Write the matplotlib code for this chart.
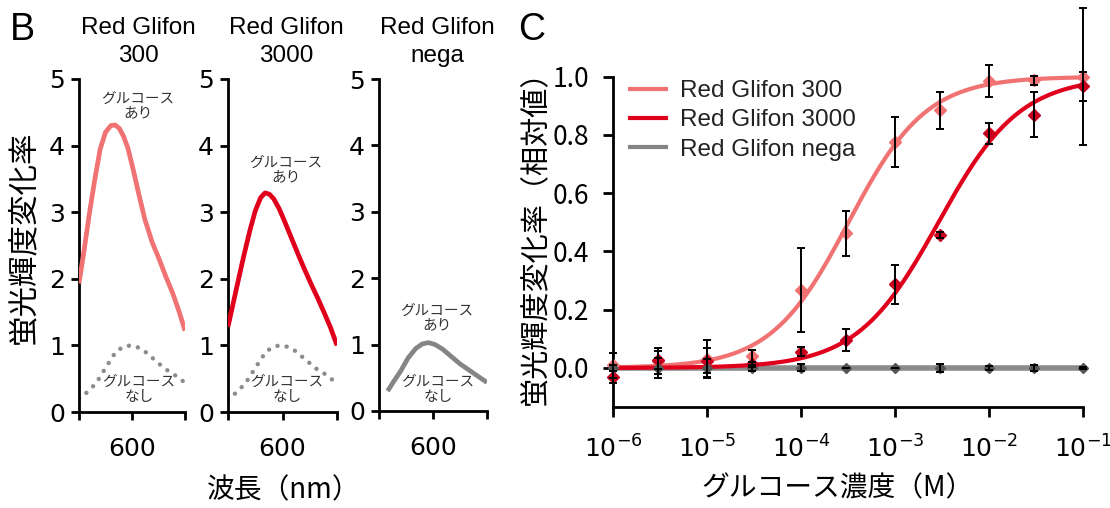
import numpy as np
import matplotlib
matplotlib.use('Agg')
import matplotlib.pyplot as plt
from matplotlib.lines import Line2D

JP = ['Noto Sans CJK JP', 'DejaVu Sans']
LAT = ['Liberation Sans', 'DejaVu Sans']
plt.rcParams['font.family'] = JP

# ---------------- Panel B data (spectra) ----------------
spectrum_titles = ['Red Glifon\n300', 'Red Glifon\n3000', 'Red Glifon\nnega']
wl_300_on = [550, 555, 560, 565, 570, 575, 580, 584, 588, 592, 596, 601, 606, 612, 619, 626, 632, 638, 644, 650]
val_300_on = [1.93, 2.45, 3.00, 3.50, 3.95, 4.20, 4.30, 4.31, 4.26, 4.14, 3.97, 3.65, 3.30, 2.90, 2.55, 2.28, 2.03, 1.80, 1.53, 1.22]
wl_300_off = [550, 558, 566, 575, 585, 593, 601, 610, 623, 631, 640, 646, 650]
val_300_off = [0.20, 0.30, 0.43, 0.66, 0.91, 0.99, 1.00, 0.94, 0.76, 0.65, 0.56, 0.48, 0.45]
wl_3000_on = [550, 555, 560, 565, 570, 575, 580, 584, 588, 592, 597, 602, 608, 614, 620, 626, 632, 638, 644, 650]
val_3000_on = [1.28, 1.65, 2.02, 2.38, 2.72, 3.02, 3.22, 3.29, 3.27, 3.20, 3.05, 2.86, 2.62, 2.38, 2.15, 1.93, 1.72, 1.50, 1.27, 1.00]
wl_3000_off = [550, 558, 566, 575, 585, 593, 601, 610, 623, 631, 640, 646, 650]
val_3000_off = [0.18, 0.30, 0.43, 0.66, 0.91, 0.99, 1.00, 0.94, 0.76, 0.65, 0.56, 0.48, 0.45]
wl_nega = [558, 563, 570, 577, 584, 590, 596, 602, 609, 617, 625, 633, 641, 650]
val_nega = [0.30, 0.43, 0.60, 0.80, 0.94, 1.01, 1.03, 1.00, 0.93, 0.82, 0.71, 0.62, 0.53, 0.43]
spec_xticks = [550, 600, 650]
spec_xticklabels = ['', '600', '']
spec_yticks = [0, 1, 2, 3, 4, 5]

# ---------------- Panel C data (dose response) ----------------
conc_M = [1e-6, 3e-6, 1e-5, 3e-5, 1e-4, 3e-4, 1e-3, 3e-3, 1e-2, 3e-2, 1e-1]
mean_300 = [0.010, 0.025, 0.030, 0.041, 0.268, 0.462, 0.776, 0.885, 0.985, 0.988, 1.000]
err_300 = [0.043, 0.045, 0.066, 0.021, 0.144, 0.076, 0.085, 0.063, 0.055, 0.015, 0.236]
mean_3000 = [-0.030, 0.028, 0.025, 0.012, 0.056, 0.096, 0.287, 0.456, 0.805, 0.870, 0.967]
err_3000 = [0.020, 0.030, 0.042, 0.010, 0.015, 0.037, 0.068, 0.010, 0.037, 0.078, 0.050]
mean_nega = [0.000, 0.000, 0.000, 0.000, 0.000, 0.000, 0.000, 0.000, 0.000, 0.000, 0.000]
err_nega = [0.010, 0.035, 0.030, 0.010, 0.012, 0.000, 0.000, 0.013, 0.008, 0.010, 0.005]
ec50_300, hill_300 = 3.2e-4, 1.05
ec50_3000, hill_3000 = 2.9e-3, 1.0
conc_ticks = [1e-6, 1e-5, 1e-4, 1e-3, 1e-2, 1e-1]
conc_ticklabels = [r'$10^{-6}$', r'$10^{-5}$', r'$10^{-4}$', r'$10^{-3}$', r'$10^{-2}$', r'$10^{-1}$']
resp_ticks = [0.0, 0.2, 0.4, 0.6, 0.8, 1.0]
legend_labels = ['Red Glifon 300', 'Red Glifon 3000', 'Red Glifon nega']

C_LIGHT = '#f07272'
C_RED = '#e0001b'
C_GRAY = '#858585'
C_DOT = '#8c8c8c'
C_TXT = '#333333'

W, H = 1110, 508
fig = plt.figure(figsize=(W / 100, H / 100), dpi=100)


def px_axes(l, t, r, b):
    return fig.add_axes([l / W, 1 - b / H, (r - l) / W, (b - t) / H])


def style_axes(ax, lw=2.0):
    for s in ['top', 'right']:
        ax.spines[s].set_visible(False)
    for s in ['left', 'bottom']:
        ax.spines[s].set_linewidth(lw)
        ax.spines[s].set_color('black')


# ---------------- Panel B ----------------
boxes = [(79, 79, 185, 412), (228, 79, 337, 412), (379, 79, 487, 411)]
on_series = [(wl_300_on, val_300_on, C_LIGHT), (wl_3000_on, val_3000_on, C_RED), (wl_nega, val_nega, C_GRAY)]
off_series = [(wl_300_off, val_300_off), (wl_3000_off, val_3000_off), None]
title_x = [138, 286, 437]
ari_y = [98, 162, 310]
for i, box in enumerate(boxes):
    ax = px_axes(*box)
    style_axes(ax)
    wl, vals, col = on_series[i]
    if off_series[i] is not None:
        ax.plot(off_series[i][0], off_series[i][1], color=C_DOT, lw=3.2,
                linestyle=(0, (0.01, 2.1)), dash_capstyle='round', zorder=2)
    ax.plot(wl, vals, color=col, lw=3.4, solid_capstyle='butt', solid_joinstyle='round', zorder=3)
    ax.set_xlim(550, 650)
    ax.set_ylim(0, 5)
    ax.set_xticks(spec_xticks)
    ax.set_xticklabels(spec_xticklabels)
    ax.set_yticks(spec_yticks)
    ax.tick_params(axis='both', direction='out', length=6, width=2, labelsize=18, colors='black')
    for lab in ax.get_xticklabels() + ax.get_yticklabels():
        lab.set_family('DejaVu Sans')
    ax.tick_params(axis='x', pad=12)
    ax.tick_params(axis='y', pad=4)
    fig.text(title_x[i] / W, 1 - 42 / H, spectrum_titles[i], ha='center', va='center',
             fontsize=17.5, family=LAT, linespacing=1.3)
    fig.text(title_x[i] / W, 1 - (ari_y[i] + 8) / H, 'グルコース\nあり', ha='center', va='center',
             fontsize=10.5, color=C_TXT, linespacing=1.1)
    fig.text((title_x[i] + 1) / W, 1 - 389 / H, 'グルコース\nなし', ha='center', va='center',
             fontsize=10.5, color=C_TXT, linespacing=1.1)

fig.text(22 / W, 1 - 30 / H, 'B', ha='center', va='center', fontsize=27, family=LAT)
fig.text(24 / W, 1 - 237 / H, '蛍光輝度変化率', rotation=90, ha='center', va='center', fontsize=22)
fig.text(284 / W, 1 - 490 / H, '波長（nm）', ha='center', va='center', fontsize=20)

# ---------------- Panel C ----------------
axc = px_axes(613, 76.7, 1083, 407)
style_axes(axc)
axc.set_xscale('log')
axc.set_xlim(1e-6, 1e-1)
axc.set_ylim(-0.134, 1.0)

xs = np.logspace(-6, -1, 400)
fit300 = 1.0 / (1.0 + (ec50_300 / xs) ** hill_300)
fit3000 = 1.0 / (1.0 + (ec50_3000 / xs) ** hill_3000)

axc.plot(conc_M, mean_nega, color=C_GRAY, lw=4.0, alpha=0.95, zorder=2, clip_on=False)
axc.plot(xs, fit300, color=C_LIGHT, lw=3.0, zorder=2, clip_on=False)
axc.plot(xs, fit3000, color=C_RED, lw=3.0, zorder=2, clip_on=False)

axc.plot(conc_M, mean_300, 'D', color=C_LIGHT, ms=6, zorder=3, clip_on=False)
axc.plot(conc_M, mean_3000, 'D', color='#c8001e', ms=6, zorder=3, clip_on=False)
axc.plot(conc_M, mean_nega, 'D', color='#555555', ms=5, zorder=3, clip_on=False)

for m, e in [(mean_300, err_300), (mean_3000, err_3000), (mean_nega, err_nega)]:
    cont = axc.errorbar(conc_M, m, yerr=e, fmt='none', ecolor='black', elinewidth=1.4,
                        capsize=3, capthick=1.4, zorder=4)
    for child in cont.get_children():
        child.set_clip_on(False)

axc.set_xticks(conc_ticks)
axc.set_xticklabels(conc_ticklabels)
axc.xaxis.set_minor_locator(matplotlib.ticker.NullLocator())
axc.set_yticks(resp_ticks)
axc.set_yticklabels([f'{v:.1f}' for v in resp_ticks])
axc.tick_params(axis='both', direction='out', length=7, width=2, colors='black')
axc.tick_params(axis='y', labelsize=19, pad=10)
axc.tick_params(axis='x', labelsize=18, pad=14)

handles = [Line2D([], [], color=C_LIGHT, lw=3), Line2D([], [], color=C_RED, lw=3),
           Line2D([], [], color=C_GRAY, lw=3)]
leg = axc.legend(handles, legend_labels, loc='upper left', bbox_to_anchor=(0.036, 0.99),
                 frameon=False, borderpad=0, borderaxespad=0, handlelength=1.5,
                 handletextpad=0.55, labelspacing=0.3, prop={'family': LAT, 'size': 17.5})
for t in leg.get_texts():
    t.set_color('#222222')

fig.text(532 / W, 1 - 30 / H, 'C', ha='center', va='center', fontsize=27, family=LAT)
fig.text(536 / W, 1 - 230 / H, '蛍光輝度変化率（相対値）', rotation=90, ha='center', va='center',
         fontsize=21)
fig.text(838 / W, 1 - 488 / H, 'グルコース濃度（M）', ha='center', va='center', fontsize=20)

fig.savefig('out.png', dpi=100)
